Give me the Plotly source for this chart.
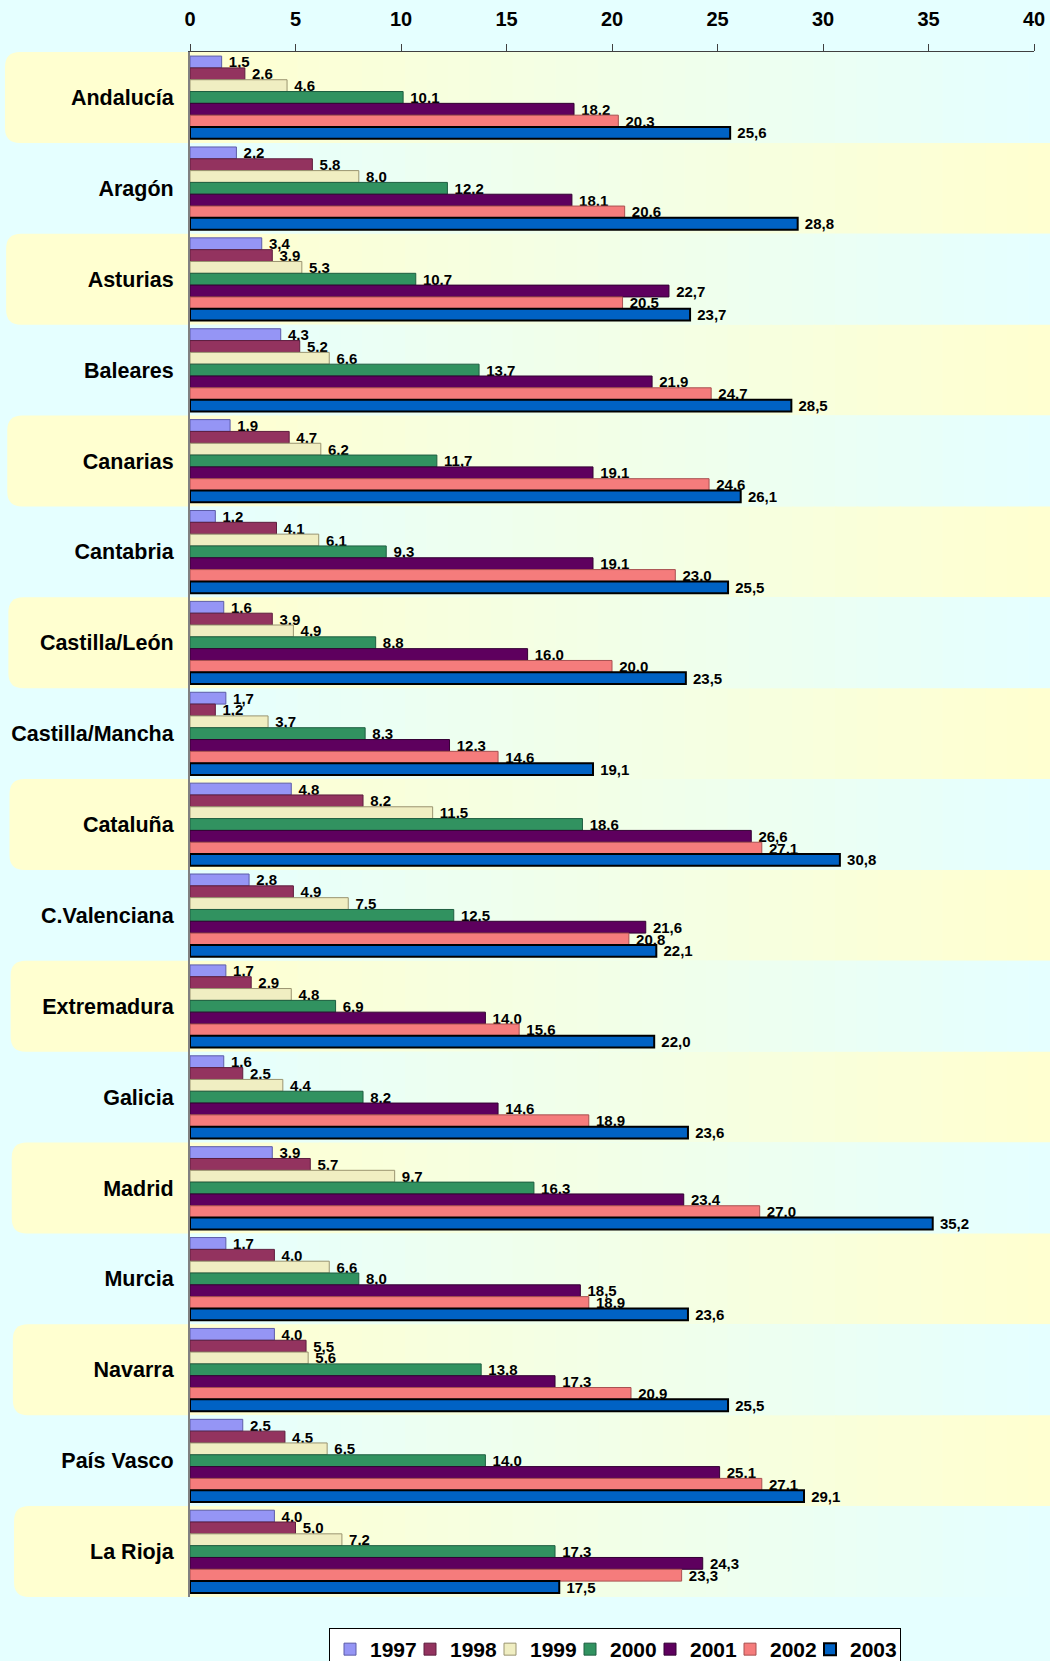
import plotly.graph_objects as go

regions = ["Andalucía", "Aragón", "Asturias", "Baleares", "Canarias", "Cantabria",
           "Castilla/León", "Castilla/Mancha", "Cataluña", "C.Valenciana", "Extremadura",
           "Galicia", "Madrid", "Murcia", "Navarra", "País Vasco", "La Rioja"]
years = ["1997", "1998", "1999", "2000", "2001", "2002", "2003"]

v1997 = [1.5, 2.2, 3.4, 4.3, 1.9, 1.2, 1.6, 1.7, 4.8, 2.8, 1.7, 1.6, 3.9, 1.7, 4.0, 2.5, 4.0]
v1998 = [2.6, 5.8, 3.9, 5.2, 4.7, 4.1, 3.9, 1.2, 8.2, 4.9, 2.9, 2.5, 5.7, 4.0, 5.5, 4.5, 5.0]
v1999 = [4.6, 8.0, 5.3, 6.6, 6.2, 6.1, 4.9, 3.7, 11.5, 7.5, 4.8, 4.4, 9.7, 6.6, 5.6, 6.5, 7.2]
v2000 = [10.1, 12.2, 10.7, 13.7, 11.7, 9.3, 8.8, 8.3, 18.6, 12.5, 6.9, 8.2, 16.3, 8.0, 13.8, 14.0, 17.3]
v2001 = [18.2, 18.1, 22.7, 21.9, 19.1, 19.1, 16.0, 12.3, 26.6, 21.6, 14.0, 14.6, 23.4, 18.5, 17.3, 25.1, 24.3]
v2002 = [20.3, 20.6, 20.5, 24.7, 24.6, 23.0, 20.0, 14.6, 27.1, 20.8, 15.6, 18.9, 27.0, 18.9, 20.9, 27.1, 23.3]
v2003 = [25.6, 28.8, 23.7, 28.5, 26.1, 25.5, 23.5, 19.1, 30.8, 22.1, 22.0, 23.6, 35.2, 23.6, 25.5, 29.1, 17.5]
series = [v1997, v1998, v1999, v2000, v2001, v2002, v2003]

x_ticks = [0, 5, 10, 15, 20, 25, 30, 35, 40]

fill_colors = ["#9595F5", "#93335F", "#F0EEC2", "#319260", "#5E005E", "#F57C7C", "#0062C4"]
edge_colors = ["#5C5CA8", "#5E1E3E", "#9A9470", "#1E5E40", "#330033", "#A85050", "#000000"]
edge_widths = [1, 1, 1, 1, 1, 1, 2]

FONT = "Liberation Sans, Arial, sans-serif"

W, H = 1050, 1661
ML, MR, MT, MB = 190, 16, 52, 64
PW = W - ML - MR
PH = H - MT - MB

fig = go.Figure()
for k, (yr, vals) in enumerate(zip(years, series)):
    fig.add_trace(go.Bar(
        name=yr,
        y=regions,
        x=vals,
        orientation="h",
        marker=dict(color=fill_colors[k], line=dict(color=edge_colors[k], width=edge_widths[k])),
        text=["\u00a0" + f"{v:.1f}".replace(".", ",") for v in vals],
        textposition="outside",
        constraintext="none",
        cliponaxis=False,
        textfont=dict(family=FONT, size=15, color="#000000", weight="bold"),
        legendwidth=45 if k == 6 else 35,
    ))

# background bands
Y = (255, 255, 208)
C = (229, 255, 255)


def mix(a, b, t):
    return "rgb(%d,%d,%d)" % tuple(round(a[j] * (1 - t) + b[j] * t) for j in range(3))


shapes = []
n = len(regions)
N = 40
x_right = (W - ML) / PW
for i in range(n):
    y1 = 1 - i / n
    y0 = 1 - (i + 1) / n
    odd = (i % 2 == 0)
    if odd:
        xl_px = 5 + 9 * i / (n - 1)
        xl = (xl_px - ML) / PW
        rx = 15 / PW
        ry = 15 / PH
        path = (f"M 0.002,{y0} L {xl + rx},{y0} Q {xl},{y0} {xl},{y0 + ry} "
                f"L {xl},{y1 - ry} Q {xl},{y1} {xl + rx},{y1} L 0.002,{y1} Z")
        shapes.append(dict(type="path", xref="paper", yref="paper", path=path,
                           fillcolor=mix(Y, C, 0), line=dict(width=0), layer="below"))
    for s in range(N):
        xa = s / N * x_right
        xb = (s + 1) / N * x_right + 0.002
        t = min(1.0, (s + 0.5) / N * x_right)
        col = mix(Y, C, t) if odd else mix(C, Y, t)
        shapes.append(dict(type="rect", xref="paper", yref="paper", x0=xa, x1=xb, y0=y0, y1=y1,
                           fillcolor=col, line=dict(width=0), layer="below"))

fig.update_layout(
    width=W, height=H,
    template="none",
    margin=dict(l=ML, r=MR, t=MT, b=MB, autoexpand=False),
    paper_bgcolor="rgb(229,255,255)",
    plot_bgcolor="rgba(0,0,0,0)",
    barmode="group",
    bargap=0.09,
    bargroupgap=0,
    shapes=shapes,
    font=dict(family=FONT, color="#000000"),
    xaxis=dict(
        side="top", range=[0, 40], tickvals=x_ticks, ticktext=[str(v) for v in x_ticks],
        showgrid=False, zeroline=False, showline=True, linecolor="#404040", linewidth=1,
        ticks="outside", ticklen=7, tickcolor="#404040", tickwidth=1,
        ticklabelstandoff=10,
        tickfont=dict(family=FONT, size=20, color="#000000", weight="bold"),
        automargin=False, fixedrange=True,
    ),
    yaxis=dict(
        type="category", autorange="reversed", showgrid=False, zeroline=False,
        showline=True, linecolor="#808080", linewidth=2, ticks="",
        ticklabelstandoff=10,
        tickfont=dict(family=FONT, size=21.5, color="#000000", weight="bold"),
        automargin=False, fixedrange=True,
    ),
    legend=dict(
        orientation="h", x=(329 - ML) / PW, xanchor="left", y=-(1628 - (H - MB)) / PH, yanchor="top",
        bgcolor="#FFFFFF", bordercolor="#000000", borderwidth=1,
        font=dict(family=FONT, size=21, color="#000000", weight="bold"),
        traceorder="normal", itemwidth=30, entrywidthmode="pixels",
    ),
    showlegend=True,
)

fig.write_html(
    "out.html",
    config={"displayModeBar": False, "staticPlot": True},
    post_script="document.body.style.margin='0px';document.body.style.padding='0px';"
                "document.body.style.background='rgb(229,255,255)';",
)
